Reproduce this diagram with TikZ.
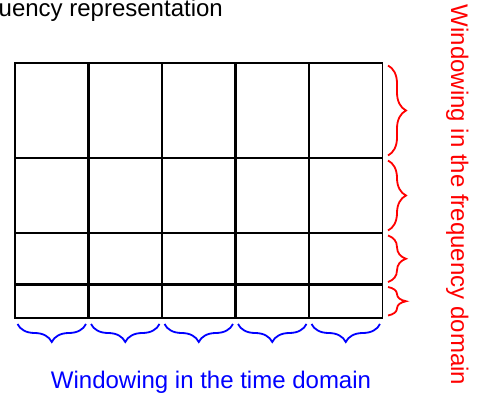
\documentclass[tikz,border=0pt]{standalone}
\usepackage{fontspec}
\setmainfont{Liberation Sans}
\usetikzlibrary{decorations.pathreplacing}
\begin{document}
\begin{tikzpicture}[x=1pt,y=1pt,
  outer/.style={line width=1.5pt,black},
  inner/.style={line width=2.2pt,black},
  fbrace/.style={red,line width=1.8pt,decorate,decoration={brace,amplitude=18pt}},
  tbrace/.style={blue,line width=1.8pt,decorate,decoration={brace,amplitude=18pt}},
  label/.style={inner sep=0pt,font=\fontsize{24}{28}\selectfont}]
\useasboundingbox (0,0) rectangle (484,399);
% grid line positions
\foreach \i/\x in {0/15,1/88.5,2/162,3/235.5,4/309,5/382.5}
  \coordinate (c\i) at (\x,0);
\foreach \j/\y in {0/336,1/241,2/166,3/114.5,4/81}
  \coordinate (r\j) at (0,\y);
% interior lines of the time-frequency grid
\foreach \i in {1,...,4}
  \draw[inner] (c\i |- r0) -- (c\i |- r4);
\foreach \j in {1,...,3}
  \draw[inner] (c0 |- r\j) -- (c5 |- r\j);
\draw[outer] (c0 |- r0) rectangle (c5 |- r4);
% frequency windows (one brace per row)
\foreach \j/\k in {0/1,1/2,2/3,3/4}
  \draw[fbrace] ([xshift=5.5pt,yshift=-2.5pt]c5 |- r\j) -- ([xshift=5.5pt,yshift=2.5pt]c5 |- r\k);
% time windows (one brace per column)
\foreach \i/\k in {0/1,1/2,2/3,3/4,4/5}
  \draw[tbrace] ([xshift=-2.5pt,yshift=-6pt]c\k |- r4) -- ([xshift=2.5pt,yshift=-6pt]c\i |- r4);
% labels
\node[label,anchor=base west] (title) at (-1.5,382) {uency representation};
\node[label,blue,anchor=base] (tlab) at (211,11) {Windowing in the time domain};
\node[label,red,anchor=base,rotate=-90] (flab) at (451,204) {Windowing in the frequency domain};
\end{tikzpicture}
\end{document}
